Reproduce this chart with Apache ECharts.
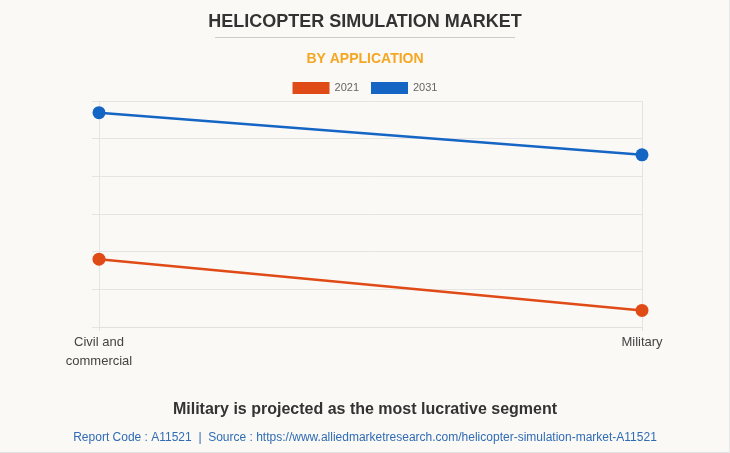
<!DOCTYPE html>
<html>
<head>
<meta charset="utf-8">
<script src="https://cdn.jsdelivr.net/npm/echarts@6/dist/echarts.min.js"></script>
<style>
html,body{margin:0;padding:0;background:#faf9f5;}
#c{width:730px;height:453px;}
</style>
</head>
<body>
<div id="c"></div>
<script>
const categories = ['Civil and\ncommercial', 'Military'];
const series2021 = [1.80, 0.44];
const series2031 = [5.69, 4.57];
const yTicks = [0, 1, 2, 3, 4, 5, 6];

const chart = echarts.init(document.getElementById('c'));
chart.setOption({
  backgroundColor: '#faf9f5',
  animation: false,
  title: [
    {text: 'HELICOPTER SIMULATION MARKET', left: 'center', top: 8,
     textStyle: {fontFamily: 'Arial, Liberation Sans', fontSize: 18, fontWeight: 'bold', color: '#333'}},
    {text: 'BY APPLICATION', left: 'center', top: 47,
     textStyle: {fontFamily: 'Arial, Liberation Sans', fontSize: 14, fontWeight: 'bold', color: '#f5a623'}},
    {text: 'Military is projected as the most lucrative segment', left: 'center', top: 397,
     textStyle: {fontFamily: 'Arial, Liberation Sans', fontSize: 16, fontWeight: 'bold', color: '#333'}},
    {text: 'Report Code : A11521  |  Source : https://www.alliedmarketresearch.com/helicopter-simulation-market-A11521', left: 'center', top: 427,
     textStyle: {fontFamily: 'Arial, Liberation Sans', fontSize: 12, fontWeight: 'normal', color: '#2f6cb5'}}
  ],
  graphic: [
    {type: 'line', shape: {x1: 215, y1: 37.5, x2: 515, y2: 37.5}, style: {stroke: '#cccccc', lineWidth: 1}},
    {type: 'line', shape: {x1: 0, y1: 452.5, x2: 730, y2: 452.5}, style: {stroke: '#e2e2e2', lineWidth: 1}},
    {type: 'line', shape: {x1: 729.5, y1: 0, x2: 729.5, y2: 453}, style: {stroke: '#e8e8e8', lineWidth: 1}}
  ],
  legend: {
    top: 77, left: 'center', itemWidth: 37, itemHeight: 12, itemGap: 12,
    icon: 'rect',
    textStyle: {fontFamily: 'Arial, Liberation Sans', fontSize: 11, color: '#666'},
    data: ['2021', '2031']
  },
  grid: {left: 99, right: 88, top: 101, bottom: 126},
  xAxis: {
    type: 'category', data: categories, boundaryGap: false,
    axisLine: {show: true, lineStyle: {color: '#e0e0e0'}},
    axisTick: {show: true, length: 4, lineStyle: {color: '#e0e0e0'}},
    splitLine: {show: true, lineStyle: {color: '#e4e4e4'}},
    axisLabel: {fontFamily: 'Arial, Liberation Sans', fontSize: 13, color: '#444', lineHeight: 19, margin: 6}
  },
  yAxis: {
    type: 'value', min: yTicks[0], max: yTicks[yTicks.length - 1], interval: 1,
    axisLabel: {show: false},
    axisLine: {show: false},
    axisTick: {show: true, length: 7, lineStyle: {color: '#e4e4e4'}},
    splitLine: {show: true, lineStyle: {color: '#e4e4e4'}}
  },
  series: [
    {name: '2021', type: 'line', data: series2021, symbol: 'circle', symbolSize: 13,
     itemStyle: {color: '#e04a17'}, lineStyle: {width: 2.5, color: '#e04a17'}},
    {name: '2031', type: 'line', data: series2031, symbol: 'circle', symbolSize: 13,
     itemStyle: {color: '#1565c5'}, lineStyle: {width: 2.5, color: '#1565c5'}}
  ]
});
</script>
</body>
</html>
